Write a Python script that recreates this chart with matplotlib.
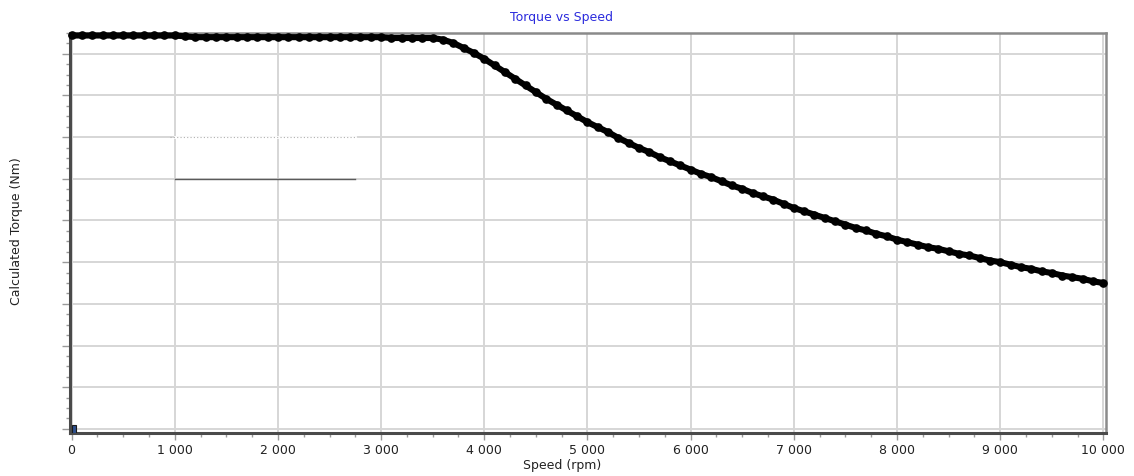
import matplotlib
matplotlib.use("Agg")
import matplotlib.pyplot as plt
from matplotlib.ticker import MultipleLocator, FuncFormatter

# ---- data ----
speed_rpm = list(range(0, 10001, 100))
torque_nm = (
    [472] * 11 +                                   # 0 .. 1000
    [471, 470, 470, 470, 470, 470, 470, 470, 470, 470,   # 1100 .. 2000
     470, 470, 470, 470, 470, 470, 470, 470, 470, 470,   # 2100 .. 3000
     469, 469, 469, 469, 469,                            # 3100 .. 3500
     467, 463, 457, 451, 444,                            # 3600 .. 4000
     436, 428, 420, 412, 404, 396, 389, 382, 375, 368,   # 4100 .. 5000
     362, 356, 349, 343, 337, 332, 326, 321, 316, 311,   # 5100 .. 6000
     306, 302, 297, 292, 288, 283, 279, 275, 270, 265,   # 6100 .. 7000
     261, 257, 253, 249, 245, 241, 238, 234, 231, 227,   # 7100 .. 8000
     224, 221, 218, 216, 213, 210, 208, 205, 202, 200,   # 8100 .. 9000
     197, 194, 192, 189, 187, 184, 182, 180, 177, 175]   # 9100 .. 10000
)
origin_marker_x = [0]
origin_marker_h = [10]
legend_remnant_x = [1000, 2750]
legend_remnant_dark_y = 300
legend_remnant_dot_y = 350

title_text = "Torque vs Speed"
x_label = "Speed (rpm)"
y_label = "Calculated Torque (Nm)"

# ---- figure ----
W, H = 1134, 476
fig = plt.figure(figsize=(W / 100, H / 100), dpi=100)
ax = fig.add_axes([70 / W, (H - 433) / H, (1106 - 70) / W, (433 - 33) / H])

ax.set_xlim(-15, 10025)
ax.set_ylim(-5, 475)

ax.xaxis.set_major_locator(MultipleLocator(1000))
ax.xaxis.set_minor_locator(MultipleLocator(250))
ax.yaxis.set_major_locator(MultipleLocator(50))
ax.yaxis.set_minor_locator(MultipleLocator(12.5))
ax.xaxis.set_major_formatter(FuncFormatter(lambda v, p: f"{int(round(v)):,}".replace(",", " ")))

ax.grid(True, which="major", color="#d6d6d6", linewidth=1.4, zorder=0)
ax.set_axisbelow(True)

ax.tick_params(axis="x", which="major", length=5, width=1, color="#9a9a9a",
               labelsize=9, labelcolor="#222222", pad=3)
ax.tick_params(axis="x", which="minor", length=3, width=1, color="#9a9a9a")
ax.tick_params(axis="y", which="major", length=6, width=1, color="#9a9a9a",
               labelleft=False)
ax.tick_params(axis="y", which="minor", length=3, width=1, color="#9a9a9a")

for side in ("left", "bottom"):
    ax.spines[side].set_color("#4a4a4a")
    ax.spines[side].set_linewidth(2.2)
for side in ("top", "right"):
    ax.spines[side].set_color("#8a8a8a")
    ax.spines[side].set_linewidth(1.8)

# remnants of a hidden legend box
ax.plot(legend_remnant_x, [legend_remnant_dot_y] * 2, color="white", lw=2, zorder=1)
ax.plot([legend_remnant_x[0] - 50, legend_remnant_x[1]], [legend_remnant_dot_y] * 2,
        color="#b0b0b0", lw=0.8, ls=(0, (1, 2)), zorder=1.5)
ax.plot(legend_remnant_x, [legend_remnant_dark_y] * 2, color="#5a5a5a", lw=1.0, zorder=1.5)

# main curve
ax.plot(speed_rpm, torque_nm, color="black", lw=4.4, marker="o", ms=5.2,
        markeredgecolor="black", markerfacecolor="black", zorder=3, clip_on=False,
        solid_capstyle="round", solid_joinstyle="round")

# small marker at the origin
ax.bar(origin_marker_x, origin_marker_h, width=45, bottom=-5, align="edge",
       color="#2d4f8e", edgecolor="#1a1a1a", linewidth=0.8, zorder=4)

fig.text(562 / W, 1 - 17 / H, title_text, ha="center", va="center",
         fontsize=9, color="#2b2bdd")
fig.text(562 / W, 1 - 466 / H, x_label, ha="center", va="center",
         fontsize=9, color="#222222")
fig.text(17 / W, 1 - 231 / H, y_label, ha="center", va="center",
         rotation=90, fontsize=9, color="#222222")

fig.savefig("out.png", dpi=100)
